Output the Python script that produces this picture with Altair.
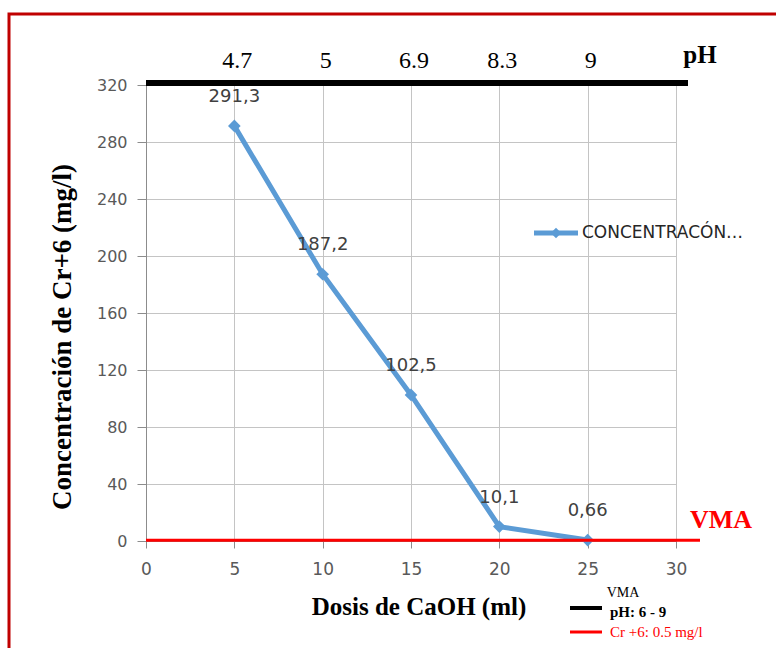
import altair as alt
import pandas as pd

# ---- data ----
dosis = [5, 10, 15, 20, 25]
concentracion = [291.3, 187.2, 102.5, 10.1, 0.66]
etiquetas = ["291,3", "187,2", "102,5", "10,1", "0,66"]
ph = ["4.7", "5", "6.9", "8.3", "9"]
vma_cr = 0.5
x_ticks = [0, 5, 10, 15, 20, 25, 30]
y_ticks = [0, 40, 80, 120, 160, 200, 240, 280, 320]

df = pd.DataFrame({"dosis": dosis, "conc": concentracion, "lab": etiquetas, "ph": ph})

W, H = 530, 456
PL, PT = 146, 85

xs = alt.Scale(domain=[0, 30], nice=False)
ys = alt.Scale(domain=[0, 320], nice=False)

base = alt.Chart(df)

serif = "Liberation Serif"
sans = "DejaVu Sans"

x_enc = alt.X("dosis:Q", scale=xs, title=None,
              axis=alt.Axis(values=x_ticks, grid=True, gridColor="#c4c4c4", domainColor="#8c8c8c",
                            tickColor="#8c8c8c", tickSize=7, labelPadding=13, labelFont=sans,
                            labelFontSize=17, labelColor="#595959", labelFlush=False))
y_enc = alt.Y("conc:Q", scale=ys, title=None,
              axis=alt.Axis(values=y_ticks, grid=True, gridColor="#c4c4c4", domainColor="#8c8c8c",
                            tickColor="#8c8c8c", tickSize=9, labelPadding=10, labelFont=sans,
                            labelFontSize=16, labelColor="#595959", labelFlush=False))

border = alt.Chart(pd.DataFrame({"a": [0]})).mark_rect(
    fillOpacity=0, stroke="#C00000", strokeWidth=3
).encode(x=alt.value(9 - PL), x2=alt.value(776 - PL + 30),
         y=alt.value(14 - PT), y2=alt.value(648 - PT + 30))

line = base.mark_line(
    color="#5B9BD5", strokeWidth=5,
    point=alt.OverlayMarkDef(shape="diamond", size=160, color="#5B9BD5", filled=True, opacity=1)
).encode(x=x_enc, y=y_enc)

labels = base.mark_text(font=sans, fontSize=18, color="#404040", dy=-29, baseline="middle").encode(
    x=alt.X("dosis:Q", scale=xs), y=alt.Y("conc:Q", scale=ys), text="lab:N")

ph_line = alt.Chart(pd.DataFrame({"a": [0]})).mark_rule(color="black", strokeWidth=6).encode(
    x=alt.value(0), x2=alt.value(688 - PL), y=alt.value(-2))

cr_line = alt.Chart(pd.DataFrame({"v": [vma_cr]})).mark_rule(color="#FF0000", strokeWidth=3).encode(
    x=alt.value(0), x2=alt.value(700 - PL), y=alt.Y("v:Q", scale=ys))

ph_labels = base.mark_text(font=serif, fontSize=24, color="black", baseline="alphabetic", dx=3).encode(
    x=alt.X("dosis:Q", scale=xs), y=alt.value(68 - PT), text="ph:N")

def txt(t, x, y, size, color="black", weight="normal", angle=0, baseline="alphabetic", align="center", font=serif):
    return alt.Chart(pd.DataFrame({"t": [t]})).mark_text(
        font=font, fontSize=size, color=color, fontWeight=weight, angle=angle,
        baseline=baseline, align=align
    ).encode(x=alt.value(x - PL), y=alt.value(y - PT), text="t:N")

ph_title = txt("pH", 700, 63, 25, weight="bold")
vma_red = txt("VMA", 721, 528, 26, color="#FF0000", weight="bold")
x_title = txt("Dosis de CaOH  (ml)", 419, 615, 25, weight="bold")
y_title = txt("Concentración de Cr+6 (mg/l)", 63, 337, 27, weight="bold", angle=270, baseline="middle")

# series legend
leg_line = alt.Chart(pd.DataFrame({"a": [0]})).mark_rule(color="#5B9BD5", strokeWidth=5).encode(
    x=alt.value(534 - PL), x2=alt.value(578 - PL), y=alt.value(233 - PT))
leg_pt = alt.Chart(pd.DataFrame({"a": [0]})).mark_point(
    shape="diamond", size=110, color="#5B9BD5", filled=True, opacity=1).encode(
    x=alt.value(556 - PL), y=alt.value(233 - PT))
leg_txt = txt("CONCENTRACÓN…", 582, 233, 17, color="#262626", baseline="middle", align="left", font=sans)

# VMA legend
vma_t = txt("VMA", 623, 597, 14)
blk = alt.Chart(pd.DataFrame({"a": [0]})).mark_rule(color="black", strokeWidth=4).encode(
    x=alt.value(570 - PL), x2=alt.value(602 - PL), y=alt.value(608 - PT))
blk_t = txt("pH: 6 - 9", 610, 617, 15, weight="bold", align="left")
red = alt.Chart(pd.DataFrame({"a": [0]})).mark_rule(color="#FF0000", strokeWidth=3).encode(
    x=alt.value(570 - PL), x2=alt.value(602 - PL), y=alt.value(632 - PT))
red_t = txt("Cr +6: 0.5 mg/l", 610, 637, 15, color="#FF0000", align="left")

chart = alt.layer(
    border, line, cr_line, ph_line, labels, ph_labels, ph_title, vma_red, x_title, y_title,
    leg_line, leg_pt, leg_txt, vma_t, blk, blk_t, red, red_t
).properties(
    width=W, height=H,
    autosize=alt.AutoSizeParams(type="none"),
    padding={"left": PL, "top": PT, "right": 776 - PL - W, "bottom": 648 - PT - H},
    background="white"
).configure_view(stroke=None)

chart.save("out.html", embed_options={"renderer": "svg", "actions": False})
